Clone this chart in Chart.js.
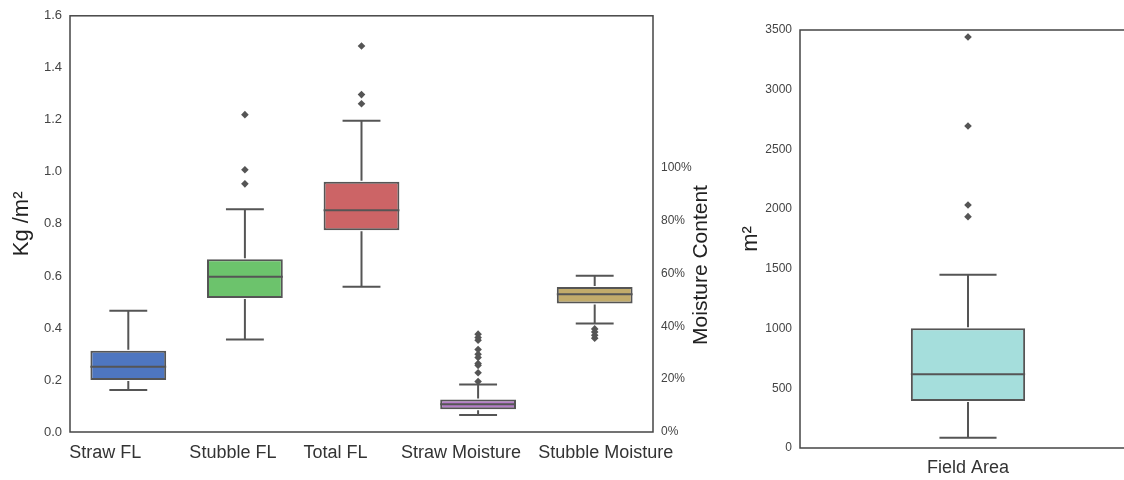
<!DOCTYPE html>
<html><head><meta charset="utf-8">
<script src="https://cdn.jsdelivr.net/npm/chart.js@4.4.0/dist/chart.umd.min.js"></script>
<style>
html,body{margin:0;padding:0;background:#fff;overflow:hidden;width:1124px;height:480px;position:relative;}
#left{position:absolute;left:0;top:0;width:720px;height:480px;}
#right{position:absolute;left:740px;top:0;width:400px;height:480px;}
</style></head><body>
<div id="left"><canvas id="c1"></canvas></div>
<div id="right"><canvas id="c2"></canvas></div>
<script>
// ---- Left panel data (FL in kg/m², moisture in %) ----
const categories = ['Straw FL', 'Stubble FL', 'Total FL', 'Straw Moisture', 'Stubble Moisture'];
const axisOf     = ['y', 'y', 'y', 'y2', 'y2'];
const lowWhisker = [0.161, 0.356, 0.558, 6.4, 41.0];
const q1Values   = [0.200, 0.515, 0.776, 8.6, 48.6];
const medians    = [0.251, 0.597, 0.852, 10.5, 52.1];
const q3Values   = [0.312, 0.664, 0.962, 12.3, 54.8];
const highWhisker= [0.466, 0.856, 1.197, 18.0, 59.1];
const outliers   = [[], [1.220, 1.008, 0.954], [1.484, 1.297, 1.262],
                    [37.0, 35.7, 34.7, 31.2, 29.4, 28.2, 25.9, 25.2, 22.4, 19.1],
                    [39.0, 37.8, 36.6, 35.5]];
const leftTicks  = [0.0, 0.2, 0.4, 0.6, 0.8, 1.0, 1.2, 1.4, 1.6];
const moistTicks = [0, 20, 40, 60, 80, 100];

// ---- Right panel data (m²) ----
const fieldCategories = ['Field Area'];
const fieldLow    = [86];
const fieldQ1     = [394];
const fieldMedian = [617];
const fieldQ3     = [1002];
const fieldHigh   = [1451];
const fieldOutliers = [[3441, 2696, 2035, 1937]];
const fieldTicks  = [0, 500, 1000, 1500, 2000, 2500, 3000, 3500];

// ---- styles ----
const boxColors = ['#4e76c0', '#6cc36c', '#cc6466', '#b57dc8', '#c2ab6b'];
const fieldColor = ['#a5dedc'];
const lineColor = '#555555';
const labelShift = [-23, -12, -26, -17, 11];
const FONT = "'Liberation Sans', Arial, sans-serif";
Chart.defaults.font.family = FONT;
Chart.defaults.color = '#444';

function boxPlugin(st) {
  return {
    id: 'boxWhiskers',
    afterDatasetsDraw(chart) {
      const ctx = chart.ctx, xs = chart.scales.x;
      ctx.save();
      ctx.beginPath();
      ctx.rect(chart.chartArea.left, chart.chartArea.top, chart.chartArea.width, chart.chartArea.height);
      ctx.clip();
      ctx.strokeStyle = lineColor; ctx.lineWidth = 2;
      st.q1.forEach((q, i) => {
        const ys = chart.scales[st.axis[i]];
        const bar = chart.getDatasetMeta(st.ds[i]).data[i];
        const bw = bar.width;
        const x = xs.getPixelForValue(i);
        const yq1 = ys.getPixelForValue(st.q1[i]), yq3 = ys.getPixelForValue(st.q3[i]);
        const yl = ys.getPixelForValue(st.low[i]), yh = ys.getPixelForValue(st.high[i]);
        const ym = ys.getPixelForValue(st.med[i]);
        ctx.beginPath();
        ctx.moveTo(x, yq3 - 1); ctx.lineTo(x, yh);
        ctx.moveTo(x - bw / 4, yh); ctx.lineTo(x + bw / 4, yh);
        ctx.moveTo(x, yq1 + 1); ctx.lineTo(x, yl);
        ctx.moveTo(x - bw / 4, yl); ctx.lineTo(x + bw / 4, yl);
        ctx.moveTo(x - bw / 2, ym); ctx.lineTo(x + bw / 2, ym);
        ctx.stroke();
      });
      ctx.restore();
    }
  };
}
const framePlugin = {
  id: 'frame',
  afterDraw(chart) {
    const a = chart.chartArea, ctx = chart.ctx;
    ctx.save();
    ctx.strokeStyle = '#454545'; ctx.lineWidth = 1.5;
    ctx.strokeRect(a.left, a.top, a.right - a.left, a.bottom - a.top);
    ctx.restore();
  }
};
const leftTextPlugin = {
  id: 'leftText',
  afterDraw(chart) {
    const ctx = chart.ctx, xs = chart.scales.x, a = chart.chartArea;
    ctx.save();
    ctx.fillStyle = '#333';
    ctx.font = '18px ' + FONT;
    ctx.textAlign = 'center'; ctx.textBaseline = 'middle';
    categories.forEach((c, i) => {
      ctx.fillText(c, xs.getPixelForValue(i) + labelShift[i], a.bottom + 21);
    });
    ctx.translate(a.right + 48, 265);
    ctx.rotate(-Math.PI / 2);
    ctx.font = '21px ' + FONT;
    ctx.fillStyle = '#222';
    ctx.fillText('Moisture Content', 0, 0);
    ctx.restore();
  }
};

const flBoxes = categories.map((c, i) => axisOf[i] === 'y' ? [q1Values[i], q3Values[i]] : null);
const moistBoxes = categories.map((c, i) => axisOf[i] === 'y2' ? [q1Values[i], q3Values[i]] : null);
const flOut = categories.flatMap((c, i) => axisOf[i] === 'y' ? outliers[i].map(v => ({x: c, y: v})) : []);
const moistOut = categories.flatMap((c, i) => axisOf[i] === 'y2' ? outliers[i].map(v => ({x: c, y: v})) : []);

const pointStyleOpts = {pointStyle: 'rectRot', pointRadius: 3.8, pointBackgroundColor: lineColor, pointBorderWidth: 0, showLine: false};
const noGrid = {display: false, drawTicks: false};

new Chart(document.getElementById('c1'), {
  type: 'bar',
  data: {
    labels: categories,
    datasets: [
      {type: 'bar', data: flBoxes, yAxisID: 'y', backgroundColor: boxColors, borderColor: lineColor, borderWidth: 2, borderSkipped: false, grouped: false, barPercentage: 0.65, categoryPercentage: 1},
      {type: 'bar', data: moistBoxes, yAxisID: 'y2', backgroundColor: boxColors, borderColor: lineColor, borderWidth: 2, borderSkipped: false, grouped: false, barPercentage: 0.65, categoryPercentage: 1},
      Object.assign({type: 'scatter', data: flOut, yAxisID: 'y'}, pointStyleOpts),
      Object.assign({type: 'scatter', data: moistOut, yAxisID: 'y2'}, pointStyleOpts)
    ]
  },
  options: {
    responsive: true, maintainAspectRatio: false, animation: false,
    layout: {padding: {top: 15, left: 0, right: 0, bottom: 0}},
    plugins: {legend: {display: false}, tooltip: {enabled: false}},
    scales: {
      x: {type: 'category', offset: true, grid: noGrid, border: {display: false},
          ticks: {display: false}, afterFit: s => { s.height = 48; }},
      y: {position: 'left', min: 0, max: 1.6,
          afterBuildTicks: s => { s.ticks = leftTicks.map(v => ({value: v})); },
          ticks: {callback: v => v.toFixed(1), font: {size: 13}, color: '#444', padding: 8},
          grid: noGrid, border: {display: false},
          title: {display: true, text: 'Kg /m²', font: {size: 22}, color: '#222', padding: {top: 9, bottom: 0}},
          afterFit: s => { s.width = 70; }},
      y2: {position: 'right', min: 0, max: 157.4,
          afterBuildTicks: s => { s.ticks = moistTicks.map(v => ({value: v})); },
          ticks: {callback: v => v + '%', font: {size: 12}, color: '#444', padding: 8},
          grid: noGrid, border: {display: false},
          afterFit: s => { s.width = 67; }}
    }
  },
  plugins: [boxPlugin({low: lowWhisker, q1: q1Values, med: medians, q3: q3Values, high: highWhisker, axis: axisOf, ds: axisOf.map(a => a === 'y' ? 0 : 1)}), framePlugin, leftTextPlugin]
});

const fieldOut = fieldCategories.flatMap((c, i) => fieldOutliers[i].map(v => ({x: c, y: v})));
new Chart(document.getElementById('c2'), {
  type: 'bar',
  data: {
    labels: fieldCategories,
    datasets: [
      {type: 'bar', data: fieldCategories.map((c, i) => [fieldQ1[i], fieldQ3[i]]), backgroundColor: fieldColor, borderColor: lineColor, borderWidth: 2, borderSkipped: false, barPercentage: 0.34, categoryPercentage: 1},
      Object.assign({type: 'scatter', data: fieldOut}, pointStyleOpts)
    ]
  },
  options: {
    responsive: true, maintainAspectRatio: false, animation: false,
    layout: {padding: {top: 30, left: 0, right: 0, bottom: 0}},
    plugins: {legend: {display: false}, tooltip: {enabled: false}},
    scales: {
      x: {type: 'category', offset: true, grid: noGrid, border: {display: false},
          ticks: {font: {size: 18}, color: '#333', padding: 9, maxRotation: 0},
          afterFit: s => { s.height = 32; }},
      y: {min: 0, max: 3500,
          afterBuildTicks: s => { s.ticks = fieldTicks.map(v => ({value: v})); },
          ticks: {callback: v => String(v), font: {size: 12}, color: '#444', padding: 8},
          grid: noGrid, border: {display: false},
          title: {display: true, text: 'm²', font: {size: 22, lineHeight: 1}, color: '#222', padding: {top: 0, bottom: 0}},
          afterFit: s => { s.width = 60; }}
    }
  },
  plugins: [boxPlugin({low: fieldLow, q1: fieldQ1, med: fieldMedian, q3: fieldQ3, high: fieldHigh, axis: ['y'], ds: [0]}), framePlugin]
});
</script>
</body></html>
